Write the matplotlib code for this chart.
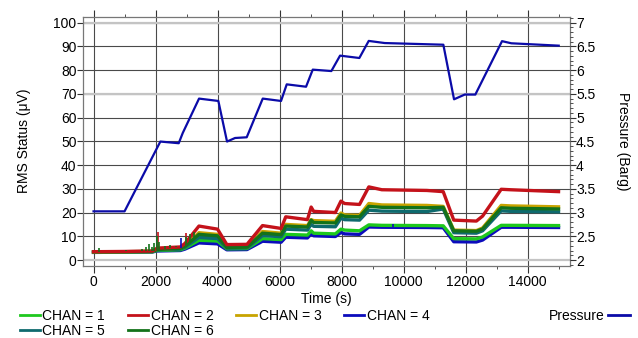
import numpy as np
import matplotlib
matplotlib.use("Agg")
import matplotlib.pyplot as plt
from matplotlib.lines import Line2D
from matplotlib.ticker import MultipleLocator

plt.rcParams["font.family"] = ["Liberation Sans", "DejaVu Sans"]
plt.rcParams["font.size"] = 10

# ---------------------------------------------------
# Data
# ---------------------------------------------------

# pressure trace (Barg)
p_time = [0, 1000, 2155, 2748, 2877, 3403, 4026, 4306, 4565, 4941, 5458, 6048,
          6232, 6855, 7071, 7671, 7952, 8574, 8877, 9393, 11284, 11629, 11974,
          12316, 13177, 13477, 15006]
pressure = [3.025, 3.025, 4.495, 4.46, 4.675, 5.40, 5.35, 4.495, 4.57, 4.585,
            5.40, 5.35, 5.70, 5.65, 6.01, 5.98, 6.305, 6.255, 6.615, 6.57,
            6.535, 5.385, 5.485, 5.485, 6.61, 6.565, 6.515]

# RMS status per channel (uV)
t = [0, 1000, 1900, 2050, 2800, 2950, 3400, 4000, 4300, 4950, 5450, 6050,
     6200, 6900, 7020, 7100, 7800, 7980, 8100, 8580, 8880, 9300, 10750,
     11280, 11620, 12350, 12550, 13150, 13450, 15000]
chan1 = [3.3, 3.4, 3.5, 4.0, 4.3, 5.0, 8.3, 8.0, 4.7, 4.8, 9.0, 8.6, 10.8,
         10.5, 12.3, 11.3, 11.0, 13.0, 12.6, 12.3, 14.8, 14.6, 14.5, 14.4,
         9.0, 8.9, 9.7, 14.6, 14.6, 14.5]
chan2 = [3.5, 3.6, 3.8, 5.0, 5.5, 7.0, 14.3, 13.0, 6.5, 6.6, 14.5, 13.3,
         18.2, 17.0, 22.3, 20.5, 20.0, 24.8, 23.8, 23.4, 30.8, 29.6, 29.3,
         28.8, 16.8, 16.4, 18.5, 29.8, 29.6, 28.8]
chan3 = [3.4, 3.5, 3.6, 4.5, 5.0, 6.0, 11.5, 10.8, 5.5, 5.6, 12.0, 11.3,
         15.0, 14.5, 17.0, 16.6, 16.3, 19.8, 19.0, 18.8, 23.8, 23.2, 23.0,
         22.6, 12.6, 12.4, 13.5, 23.0, 22.8, 22.4]
chan4 = [3.2, 3.3, 3.4, 3.8, 4.0, 4.6, 7.2, 6.8, 4.3, 4.4, 7.9, 7.5, 9.6,
         9.3, 11.0, 10.2, 9.9, 11.6, 11.0, 10.8, 13.9, 13.8, 13.7, 13.6, 7.7,
         7.6, 8.4, 13.8, 13.8, 13.7]
chan5 = [3.3, 3.4, 3.5, 4.2, 4.6, 5.4, 9.5, 9.0, 5.0, 5.1, 10.3, 9.8, 13.0,
         12.6, 15.0, 14.2, 14.0, 17.6, 17.0, 16.8, 21.0, 20.6, 20.4, 21.5,
         11.5, 11.3, 12.3, 20.7, 20.5, 20.3]
chan6 = [3.4, 3.5, 3.6, 4.4, 4.9, 5.8, 10.8, 10.2, 5.3, 5.4, 11.3, 10.7,
         14.3, 13.9, 16.8, 15.8, 15.6, 19.0, 18.4, 18.2, 22.6, 22.2, 22.0,
         22.2, 12.3, 12.1, 13.1, 22.0, 21.8, 21.5]

# spikes (time, low, high)
spk6_t = [180, 1050, 1550, 1700, 1780, 1870, 1940, 2040, 2100, 2300, 2480,
          2650, 2980, 3100, 3250]
spk6_lo = [3.5, 3.6, 3.7, 3.7, 3.7, 3.8, 3.8, 4.3, 4.4, 4.8, 5.0, 5.3, 5.9,
           7.5, 9.5]
spk6_hi = [5.0, 4.3, 4.8, 5.5, 6.8, 5.6, 7.0, 10.0, 7.5, 6.0, 6.5, 6.0, 9.5,
           10.8, 12.0]
spk2_t = [2070, 2990]
spk2_lo = [4.6, 5.9]
spk2_hi = [11.8, 11.2]
spk4_t = [2830, 9650]
spk4_lo = [5.0, 13.8]
spk4_hi = [9.2, 15.0]

colors = {
    1: "#1ec81e",
    2: "#c4121a",
    3: "#c8a400",
    4: "#0c0cbc",
    5: "#0e6a6e",
    6: "#13721a",
}
p_color = "#0b0ba8"

# ---------------------------------------------------
# Figure
# ---------------------------------------------------

fig = plt.figure(figsize=(6.38, 3.38), dpi=100)
ax = fig.add_axes([82.7/638, 1-265.7/338, (569.7-82.7)/638, (265.7-16.7)/338])

ylo, yhi = -2.4, 102.5
ax.set_xlim(-350, 15360)
ax.set_ylim(ylo, yhi)

# grid
for x in range(0, 15000, 2000):
    ax.axvline(x, color="#4a4a4a", lw=0.8, zorder=0)
for y in range(10, 101, 10):
    ax.axhline(y, color="#4a4a4a", lw=0.8, zorder=0)
for y in [0, 70, 100]:
    ax.axhline(y, color="#c4c4c4", lw=1.6, zorder=0.5)

lw = 2.4
ax.plot(t, chan4, color=colors[4], lw=lw, zorder=2)
ax.plot(t, chan1, color=colors[1], lw=lw, zorder=2)
ax.plot(t, chan5, color=colors[5], lw=lw, zorder=2)
ax.plot(t, chan3, color=colors[3], lw=lw, zorder=2)
ax.plot(t, chan6, color=colors[6], lw=lw, zorder=2)
ax.plot(t, chan2, color=colors[2], lw=lw, zorder=2)
ax.vlines(spk4_t, spk4_lo, spk4_hi, color=colors[4], lw=1.2, zorder=2)
ax.vlines(spk2_t, spk2_lo, spk2_hi, color=colors[2], lw=1.2, zorder=2)
ax.vlines(spk6_t, spk6_lo, spk6_hi, color=colors[6], lw=1.2, zorder=3)

# ticks
ax.xaxis.set_major_locator(MultipleLocator(2000))
ax.xaxis.set_minor_locator(MultipleLocator(1000))
ax.yaxis.set_major_locator(MultipleLocator(10))
ax.tick_params(axis="x", which="major", direction="out", length=5,
               top=True, color="#333333", pad=2)
ax.tick_params(axis="x", which="minor", direction="out", length=2.5,
               top=True, color="#333333")
ax.tick_params(axis="y", which="major", direction="out", length=4,
               color="#333333", pad=0.5)
for s in ax.spines.values():
    s.set_color("#777777")
    s.set_linewidth(0.9)

ax.set_xlabel("Time (s)", labelpad=2)
ax.set_ylabel("RMS Status (μV)", labelpad=16)

# pressure axis
ax2 = ax.twinx()
ax2.set_ylim(2 + ylo/20, 2 + yhi/20)
ax2.plot(p_time, pressure, color=p_color, lw=1.6, zorder=3)
ax2.yaxis.set_minor_locator(MultipleLocator(0.1))
ax2.set_yticks([2, 2.5, 3, 3.5, 4, 4.5, 5, 5.5, 6, 6.5, 7])
ax2.set_yticklabels(["2", "2.5", "3", "3.5", "4", "4.5", "5", "5.5", "6",
                     "6.5", "7"])
ax2.tick_params(axis="y", which="major", direction="out", length=4,
                color="#333333", pad=0.5)
ax2.tick_params(axis="y", which="minor", direction="out", length=2.5,
                color="#333333")
for s in ax2.spines.values():
    s.set_visible(False)
ax2.set_ylabel("Pressure (Barg)", rotation=270, labelpad=25)

# legend: matplotlib fills columns first, so order 1,5,2,6,3,4
order = [1, 5, 2, 6, 3, 4]
handles = [Line2D([], [], color=colors[k], lw=2) for k in order]
labels = ["CHAN = %d" % k for k in order]
fig.legend(handles, labels, ncol=4, loc="upper left",
           bbox_to_anchor=(19.5/638, 1-308.5/338), frameon=False,
           fontsize=10, handlelength=1.45, handletextpad=0.2,
           columnspacing=1.62, labelspacing=0.1, borderpad=0,
           borderaxespad=0)
fig.legend([Line2D([], [], color=p_color, lw=2)], ["Pressure"],
           loc="upper right", bbox_to_anchor=(630/638, 1-308.5/338),
           frameon=False, fontsize=10, handlelength=1.6, handletextpad=0.2,
           markerfirst=False, borderpad=0, borderaxespad=0)

fig.savefig("out.png", dpi=100)
